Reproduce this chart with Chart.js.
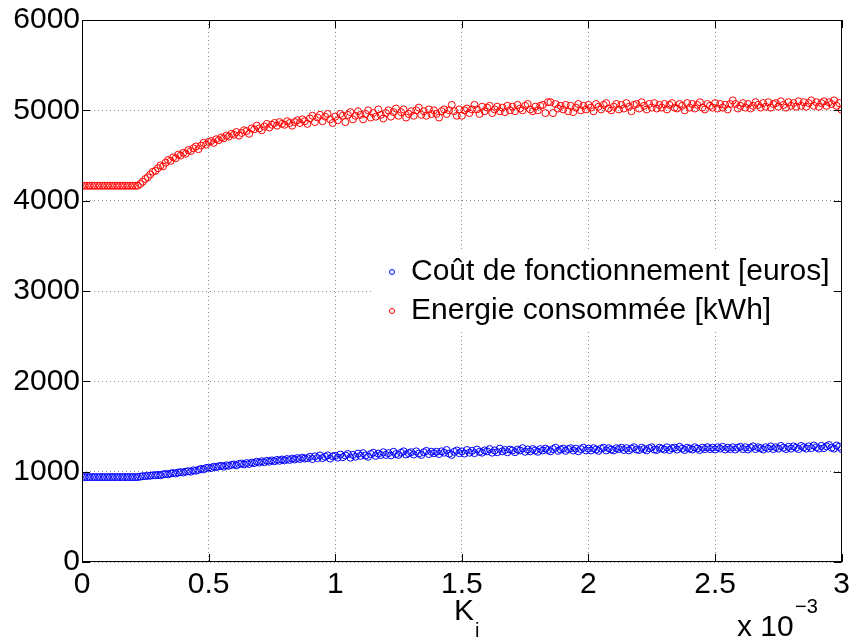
<!DOCTYPE html>
<html>
<head>
<meta charset="utf-8">
<script src="https://cdn.jsdelivr.net/npm/chart.js@4.4.1/dist/chart.umd.min.js"></script>
<style>
  body { margin: 0; background: #fff; }
  canvas { display: block; }
</style>
</head>
<body>
<canvas id="myChart" width="855" height="639"></canvas>
<script>
// K_i goes from 0 to 3 (x 10^-3), one sample every 0.01
const kiStep = 0.01;
const xTicks = [0, 0.5, 1, 1.5, 2, 2.5, 3];
const yTicks = [0, 1000, 2000, 3000, 4000, 5000, 6000];

const seriesLabels = ["Coût de fonctionnement [euros]", "Energie consommée [kWh]"];

const costValues = [
  940, 940, 940, 940, 940, 940, 940, 940, 940, 940,
  940, 940, 940, 940, 940, 940, 940, 940, 940, 940,
  940, 940, 940, 945, 950, 950, 955, 955, 960, 960,
  965, 960, 970, 975, 970, 980, 985, 980, 990, 995,
  990, 1000, 1005, 1000, 1015, 1010, 1020, 1030, 1025, 1040,
  1045, 1040, 1055, 1050, 1060, 1065, 1055, 1070, 1065, 1075,
  1080, 1070, 1085, 1090, 1080, 1095, 1085, 1100, 1095, 1110,
  1100, 1115, 1105, 1120, 1110, 1125, 1115, 1130, 1120, 1135,
  1125, 1140, 1130, 1145, 1135, 1150, 1140, 1155, 1145, 1150,
  1165, 1140, 1170, 1150, 1180, 1150, 1165, 1180, 1145, 1170,
  1175, 1155, 1190, 1160, 1180, 1195, 1155, 1185, 1165, 1200,
  1175, 1205, 1180, 1165, 1195, 1210, 1175, 1200, 1185, 1215,
  1185, 1205, 1180, 1220, 1195, 1185, 1210, 1225, 1190, 1205,
  1215, 1190, 1225, 1200, 1185, 1215, 1230, 1195, 1220, 1205,
  1220, 1195, 1225, 1210, 1240, 1200, 1185, 1220, 1235, 1205,
  1225, 1200, 1240, 1210, 1230, 1205, 1245, 1220, 1210, 1235,
  1225, 1250, 1210, 1235, 1215, 1255, 1225, 1240, 1215, 1245,
  1235, 1215, 1245, 1235, 1260, 1220, 1245, 1225, 1250, 1235,
  1220, 1250, 1235, 1255, 1240, 1225, 1250, 1265, 1230, 1245,
  1255, 1230, 1250, 1260, 1235, 1255, 1225, 1250, 1265, 1235,
  1255, 1235, 1260, 1245, 1230, 1255, 1265, 1235, 1260, 1245,
  1235, 1260, 1250, 1265, 1240, 1260, 1235, 1255, 1270, 1245,
  1240, 1265, 1250, 1235, 1260, 1270, 1245, 1240, 1265, 1255,
  1245, 1270, 1240, 1260, 1265, 1245, 1275, 1255, 1240, 1265,
  1255, 1245, 1270, 1255, 1240, 1265, 1250, 1270, 1250, 1265,
  1245, 1270, 1255, 1275, 1245, 1265, 1250, 1270, 1245, 1265,
  1275, 1250, 1270, 1245, 1265, 1280, 1250, 1270, 1260, 1245,
  1270, 1255, 1280, 1250, 1270, 1255, 1285, 1265, 1250, 1275,
  1255, 1280, 1265, 1250, 1285, 1270, 1255, 1280, 1260, 1290,
  1270, 1255, 1285, 1260, 1280, 1295, 1265, 1255, 1290, 1275,
  1250
];

const energyValues = [
  4165, 4165, 4165, 4165, 4165, 4165, 4165, 4165, 4165, 4165,
  4165, 4165, 4165, 4165, 4165, 4165, 4165, 4165, 4165, 4165,
  4165, 4165, 4165, 4185, 4210, 4240, 4260, 4290, 4320, 4330,
  4360, 4390, 4380, 4420, 4450, 4440, 4480, 4470, 4510, 4500,
  4530, 4520, 4560, 4550, 4580, 4600, 4570, 4610, 4640, 4620,
  4650, 4660, 4640, 4680, 4670, 4700, 4690, 4720, 4710, 4740,
  4730, 4760, 4720, 4750, 4780, 4770, 4740, 4800, 4790, 4830,
  4800, 4780, 4820, 4850, 4810, 4840, 4860, 4830, 4870, 4850,
  4840, 4880, 4860, 4830, 4870, 4890, 4860, 4900, 4880, 4850,
  4910, 4940, 4870, 4920, 4950, 4880, 4930, 4960, 4900, 4860,
  4930, 4890, 4960, 4940, 4870, 4950, 4980, 4900, 4940, 4990,
  4950, 4900, 4960, 5000, 4920, 4970, 4930, 5010, 4950, 4910,
  4970, 5000, 4930, 4980, 5020, 4940, 4980, 5010, 4920, 4960,
  4990, 4940, 5000, 5030, 4950, 4990, 4940, 5010, 4960, 5000,
  4960, 4920, 4990, 5010, 4960, 5000, 5060, 4990, 4940, 5010,
  4940, 5000, 5020, 4970, 5010, 5060, 5010, 4960, 5040, 4990,
  5030, 5050, 4970, 5010, 5040, 4990, 5030, 4980, 5050, 5000,
  5040, 4990, 5060, 5020, 5000, 5050, 5070, 5010, 4990, 5040,
  5000, 5050, 5060, 4970, 5090, 5090, 4970, 5070, 5020, 5050,
  5010, 5060, 4990, 5050, 4980, 5030, 5070, 5000, 5050, 5010,
  5060, 5030, 4990, 5070, 5040, 5010, 5060, 5080, 5020, 5000,
  5040, 5070, 5010, 5060, 5020, 5080, 5040, 4990, 5060, 5070,
  5020, 5090, 5050, 5010, 5070, 5030, 5080, 5020, 5060, 5030,
  5070, 5010, 5060, 5080, 5030, 5020, 5070, 5050, 5000, 5080,
  5030, 5070, 5020, 5060, 5090, 5030, 5010, 5070, 5050, 5030,
  5080, 5020, 5070, 5030, 5060, 5010, 5070, 5110, 5070, 5020,
  5050, 5080, 5030, 5070, 5020, 5050, 5090, 5060, 5030, 5080,
  5040, 5090, 5030, 5070, 5080, 5040, 5100, 5060, 5030, 5090,
  5050, 5080, 5040, 5100, 5050, 5090, 5040, 5080, 5110, 5050,
  5090, 5040, 5080, 5100, 5050, 5090, 5070, 5110, 5050, 5080,
  5005
];

const FONT = "'Liberation Sans', Arial, Helvetica, sans-serif";

function toPoints(values) {
  return values.map((v, i) => ({ x: i * kiStep, y: v }));
}

// MATLAB-like legend, box, inward ticks and axis labels
const matlabFrame = {
  id: "matlabFrame",
  afterDatasetsDraw(chart) {
    const { ctx, chartArea: a, scales } = chart;
    ctx.save();
    // legend (white background, no border)
    ctx.fillStyle = "#fff";
    ctx.fillRect(372, 252, 472, 80);
    const colors = ["#0000ff", "#ff0000"];
    const rows = [272, 311];
    ctx.font = "30px " + FONT;
    ctx.textBaseline = "middle";
    rows.forEach((y, i) => {
      ctx.strokeStyle = colors[i];
      ctx.lineWidth = 1;
      ctx.beginPath();
      ctx.arc(392, y, 2.5, 0, Math.PI * 2);
      ctx.stroke();
      ctx.fillStyle = "#000";
      ctx.fillText(seriesLabels[i], 411, y);
    });

    ctx.strokeStyle = "#000";
    ctx.lineWidth = 1;
    ctx.beginPath();
    xTicks.forEach((v) => {
      const px = Math.round(scales.x.getPixelForValue(v)) + 0.5;
      ctx.moveTo(px, a.bottom); ctx.lineTo(px, a.bottom - 8);
      ctx.moveTo(px, a.top); ctx.lineTo(px, a.top + 8);
    });
    yTicks.forEach((v) => {
      const py = Math.round(scales.y.getPixelForValue(v)) + 0.5;
      ctx.moveTo(a.left, py); ctx.lineTo(a.left + 8, py);
      ctx.moveTo(a.right, py); ctx.lineTo(a.right - 8, py);
    });
    ctx.stroke();
    ctx.strokeRect(Math.round(a.left) + 0.5, Math.round(a.top) + 0.5,
      Math.round(a.right - a.left) - 1, Math.round(a.bottom - a.top) - 1);
    ctx.restore();
  },
  afterDraw(chart) {
    const { ctx } = chart;
    ctx.save();
    // axis label K_i
    ctx.textBaseline = "alphabetic";
    ctx.fillStyle = "#000";
    ctx.font = "30px " + FONT;
    ctx.fillText("K", 454, 620);
    ctx.font = "20px " + FONT;
    ctx.fillText("i", 475, 637);
    // exponent
    ctx.font = "30px " + FONT;
    ctx.fillText("x 10", 737, 636);
    ctx.font = "20px " + FONT;
    ctx.fillText("\u22123", 795, 613);
    ctx.restore();
  }
};

const ctx = document.getElementById("myChart");

new Chart(ctx, {
  type: "scatter",
  data: {
    datasets: [
      {
        label: seriesLabels[0],
        data: toPoints(costValues),
        borderColor: "#0000ff",
        backgroundColor: "rgba(0,0,0,0)",
        pointRadius: 3.5,
        pointBorderWidth: 1,
      },
      {
        label: seriesLabels[1],
        data: toPoints(energyValues),
        borderColor: "#ff0000",
        backgroundColor: "rgba(0,0,0,0)",
        pointRadius: 3.5,
        pointBorderWidth: 1,
      },
    ],
  },
  options: {
    responsive: false,
    animation: false,
    events: [],
    layout: { padding: { top: 20, right: 10, left: 0, bottom: 0 } },
    plugins: { legend: { display: false }, tooltip: { enabled: false } },
    scales: {
      x: {
        type: "linear",
        min: 0,
        max: 3,
        afterBuildTicks: (scale) => { scale.ticks = xTicks.map((v) => ({ value: v })); },
        afterFit: (scale) => { scale.height = 77; },
        ticks: {
          font: { size: 30, family: FONT },
          color: "#000",
          padding: 5,
          maxRotation: 0,
          callback: (v) => String(v),
        },
        grid: { color: "rgba(0,0,0,0.45)", lineWidth: 1, drawTicks: false },
        border: { display: false, dash: [1, 3] },
      },
      y: {
        min: 0,
        max: 6000,
        afterBuildTicks: (scale) => { scale.ticks = yTicks.map((v) => ({ value: v })); },
        afterFit: (scale) => { scale.width = 82; },
        ticks: {
          font: { size: 30, family: FONT },
          color: "#000",
          padding: 2,
          callback: (v) => String(v),
        },
        grid: { color: "rgba(0,0,0,0.45)", lineWidth: 1, drawTicks: false },
        border: { display: false, dash: [1, 3] },
      },
    },
  },
  plugins: [matlabFrame],
});
</script>
</body>
</html>
